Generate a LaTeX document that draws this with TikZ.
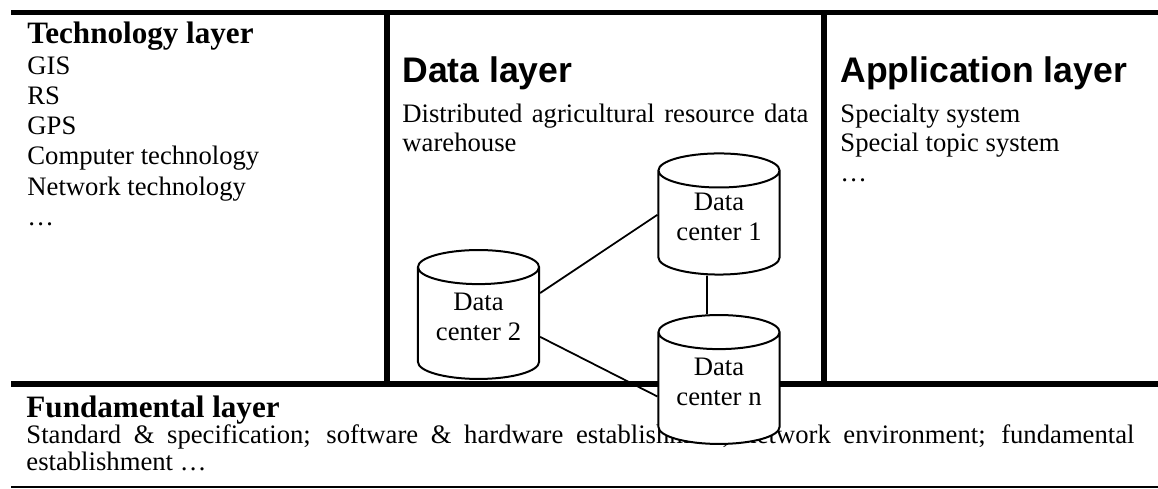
\documentclass[tikz,border=0pt]{standalone}
\usepackage{fontspec}
\setmainfont{Liberation Serif}
\newfontfamily\layersans{Liberation Sans}
\usetikzlibrary{positioning,calc,shapes.geometric}
\hyphenpenalty=10000
\tikzset{
  layer/rule/.style={line width=2.3pt},
  layer/thinrule/.style={line width=0.7pt},
  layer/serifhead/.style={
    anchor=base west,
    inner sep=0pt,
    font=\fontsize{14}{16}\selectfont\bfseries
  },
  layer/sanshead/.style={
    anchor=base west,
    inner sep=0pt,
    font=\layersans\fontsize{16}{18}\selectfont\bfseries
  },
  layer/item/.style={anchor=base west, inner sep=0pt, font=\fontsize{12}{13.5}\selectfont},
  layer/para/.style={anchor=base west, inner sep=0pt, align=justify},
  layer/db/.style={
    cylinder,
    shape border rotate=90,
    aspect=0.4,
    draw,
    line width=0.9pt,
    fill=white,
    align=center,
    inner sep=0pt,
    text depth=6pt,
    minimum width=54.5pt,
    font=\fontsize{12}{13.5}\selectfont
  },
  layer/link/.style={line width=0.8pt}
}

\begin{document}
\begin{tikzpicture}[x=0.45pt,y=-0.45pt]
  \useasboundingbox (0,0) rectangle (1158,488);

  \draw[layer/rule] (11,12.5) -- (1158,12.5);
  \draw[layer/rule] (11,384) -- (1158,384);
  \draw[layer/rule] (387,12.5) -- (387,384);
  \draw[layer/rule] (824,12.5) -- (824,384);
  \draw[layer/thinrule] (11,487) -- (1158,487);

  \node[layer/serifhead] (techTitle) at (27,43) {Technology layer};
  \foreach \i/\t in {1/GIS,2/RS,3/GPS,4/Computer technology,5/Network technology,6/…}{
    \node[layer/item] (tech\i) at (27,{44+30.2*\i}) {\t};
  }

  \node[layer/sanshead] (dataTitle) at (402,82) {Data layer};
  \node[layer/para,text width=182.7pt,font=\fontsize{12}{13.3}\selectfont] (dataText) at (402,122)
    {Distributed agricultural resource data warehouse};

  \node[layer/sanshead] (appTitle) at (840,82) {Application layer};
  \foreach \i/\t in {1/Specialty system,2/Special topic system,3/…}{
    \node[layer/item] (app\i) at (840,{92.5+29.5*\i}) {\t};
  }

  \node[layer/serifhead] (fundTitle) at (26,417) {Fundamental layer};
  \node[layer/para,text width=498.6pt,font=\fontsize{12}{12.2}\selectfont] (fundText) at (26,443)
    {Standard \& specification; software \& hardware establishment, network environment; fundamental establishment …};

  \node[layer/db,minimum height=54.5pt] (dc1) at (719,223) {Data\\center 1};
  \node[layer/db,minimum height=58pt] (dc2) at (478.5,323.5) {Data\\center 2};
  \node[layer/db,minimum height=58pt] (dcn) at (719,388.5) {Data\\center n};

  \draw[layer/link] ([yshift=13.7pt]dc2.east) -- ([yshift=3.7pt]dc1.west);
  \draw[layer/link] ([yshift=-6pt]dc2.east) -- ([yshift=-3.6pt]dcn.west);
  \draw[layer/link] ([xshift=-5.4pt]dc1.south) -- ([xshift=-5.4pt]dcn.north);
\end{tikzpicture}
\end{document}
